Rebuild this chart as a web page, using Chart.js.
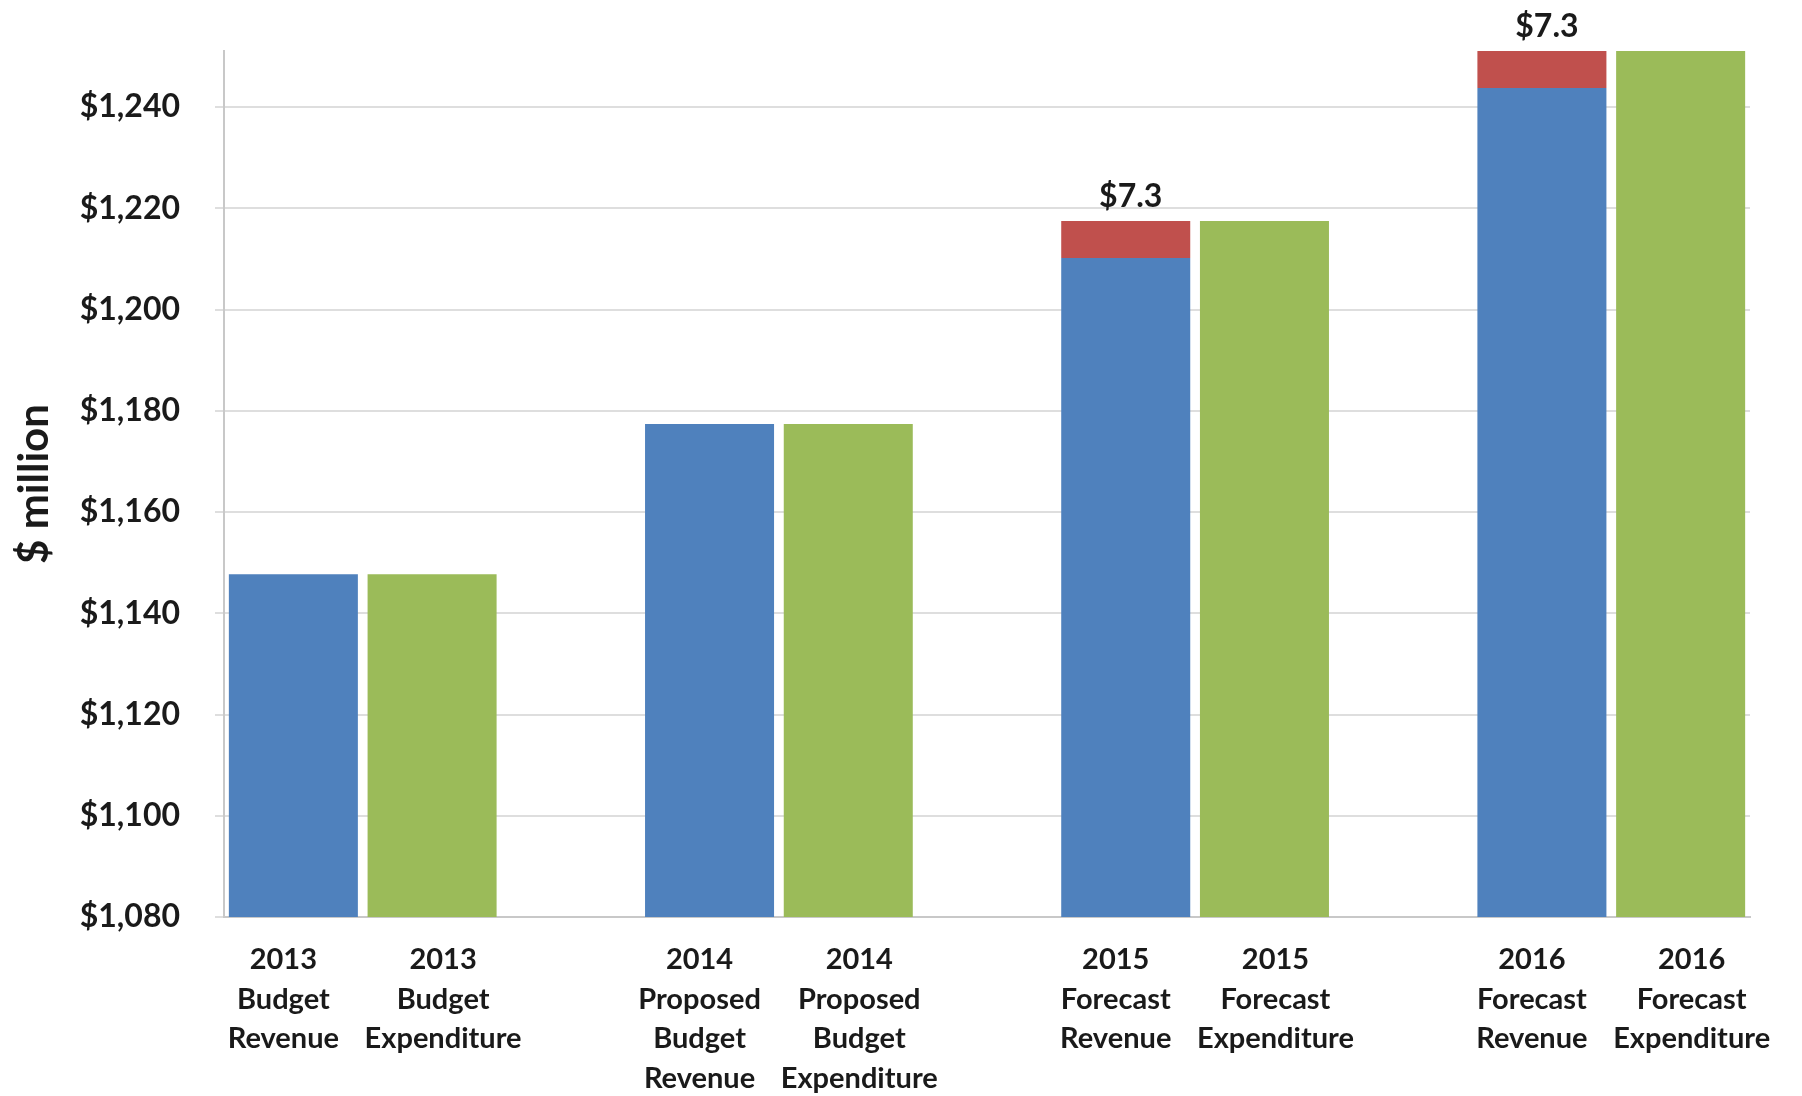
<!DOCTYPE html>
<html>
<head>
<meta charset="utf-8">
<title>Budget revenue and expenditure</title>
<script src="https://cdn.jsdelivr.net/npm/chart.js@4.4.0/dist/chart.umd.min.js"></script>
<style>
  html, body { margin: 0; padding: 0; background: #ffffff; }
  #wrap { width: 1802px; height: 1096px; }
</style>
</head>
<body>
<div id="wrap"><canvas id="budgetChart" width="1802" height="1096"></canvas></div>
<script>
// Category labels (one per bar)
const revenueLabels = [
  ['2013', 'Budget', 'Revenue'],
  ['2014', 'Proposed', 'Budget', 'Revenue'],
  ['2015', 'Forecast', 'Revenue'],
  ['2016', 'Forecast', 'Revenue']
];
const expenditureLabels = [
  ['2013', 'Budget', 'Expenditure'],
  ['2014', 'Proposed', 'Budget', 'Expenditure'],
  ['2015', 'Forecast', 'Expenditure'],
  ['2016', 'Forecast', 'Expenditure']
];

// Values in $ million
const revenue = [1147.7, 1177.4, 1210.2, 1243.8];
const shortfall = [null, null, 7.3, 7.3];
const expenditure = [1147.7, 1177.4, 1217.5, 1251.1];

// Y axis ticks
const yMin = 1080;
const yMax = 1251.1;
const yStep = 20;

// Build the category list: revenue bar, expenditure bar, empty spacer between years
const labels = [];
const kinds = [];
const revData = [];
const gapData = [];
const expData = [];
revenue.forEach((v, i) => {
  if (i > 0) {
    labels.push(''); kinds.push('spacer');
    revData.push(null); gapData.push(null); expData.push(null);
  }
  labels.push(revenueLabels[i]); kinds.push('rev');
  revData.push(v); gapData.push(shortfall[i]); expData.push(null);
  labels.push(expenditureLabels[i]); kinds.push('exp');
  revData.push(null); gapData.push(null); expData.push(expenditure[i]);
});

// Excel put the pair's labels a little apart from the bar centres
const labelNudge = { rev: -10, exp: 11, spacer: 0 };
const nudgeLabels = {
  id: 'nudgeLabels',
  beforeDraw(chart) {
    const items = chart.scales.x.getLabelItems(chart.chartArea);
    items.forEach((item, i) => {
      const shift = labelNudge[kinds[i]] || 0;
      item.options.translation[0] += shift;
    });
  }
};

// Draws the "$7.3" labels above the red segments
const gapLabels = {
  id: 'gapLabels',
  afterDatasetsDraw(chart) {
    const ctx = chart.ctx;
    const meta = chart.getDatasetMeta(1);
    ctx.save();
    ctx.font = 'bold 32px Lato';
    ctx.fillStyle = '#1a1a1a';
    ctx.textAlign = 'center';
    ctx.textBaseline = 'bottom';
    meta.data.forEach((bar, i) => {
      const v = gapData[i];
      if (v == null) return;
      ctx.fillText('$' + v.toFixed(1), bar.x + 5, bar.y - 8);
    });
    ctx.restore();
  }
};

const ctx = document.getElementById('budgetChart').getContext('2d');
const chart = new Chart(ctx, {
  type: 'bar',
  data: {
    labels: labels,
    datasets: [
      { label: 'Revenue', data: revData, backgroundColor: '#4f81bd' },
      { label: 'Shortfall', data: gapData, backgroundColor: '#c0504d' },
      { label: 'Expenditure', data: expData, backgroundColor: '#9bbb59' }
    ]
  },
  options: {
    responsive: false,
    animation: false,
    devicePixelRatio: 1,
    layout: { padding: { top: 51, right: 52, bottom: 0, left: 0 } },
    plugins: {
      legend: { display: false },
      tooltip: { enabled: false }
    },
    datasets: {
      bar: { categoryPercentage: 1, barPercentage: 0.93 }
    },
    scales: {
      x: {
        stacked: true,
        grid: { display: false, drawTicks: false },
        border: { display: true, color: '#c8c8c8', width: 2 },
        ticks: {
          autoSkip: false,
          maxRotation: 0,
          padding: 23,
          color: '#1a1a1a',
          font: { family: 'Lato', weight: 'bold', size: 29, lineHeight: '39.5px' }
        },
        afterFit(scale) { scale.height = 179; }
      },
      y: {
        stacked: true,
        min: yMin,
        max: yMax,
        grid: { color: '#dedede', lineWidth: 2, tickLength: 9 },
        border: { display: true, color: '#c8c8c8', width: 2 },
        ticks: {
          stepSize: yStep,
          includeBounds: false,
          padding: 35,
          color: '#1a1a1a',
          font: { family: 'Lato', weight: 'bold', size: 32 },
          callback: value => '$' + value.toLocaleString('en-US')
        },
        title: {
          display: true,
          text: '$ million',
          color: '#1a1a1a',
          padding: { top: 9, bottom: 0 },
          font: { family: 'Lato', weight: 'bold', size: 42 }
        },
        afterFit(scale) {
          scale.width = 224;
          // tick padding would otherwise push the plot top down
          scale.paddingTop = 0;
          scale.paddingBottom = 0;
        }
      }
    }
  },
  plugins: [nudgeLabels, gapLabels]
});
</script>
</body>
</html>
